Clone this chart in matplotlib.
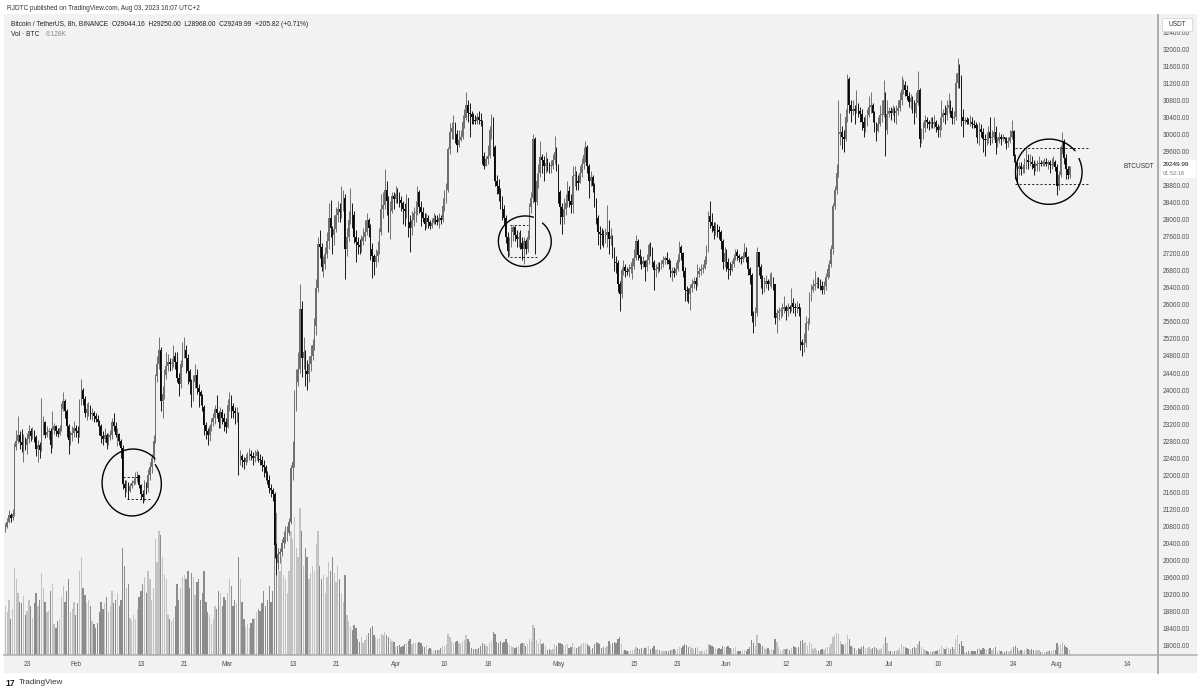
import numpy as np
import matplotlib
matplotlib.use('Agg')
import matplotlib.pyplot as plt
from matplotlib.patches import Rectangle
from matplotlib.lines import Line2D

plt.rcParams['font.family'] = ['Liberation Sans', 'DejaVu Sans']

# BTCUSDT 8h candles, Jan 19 2023 00:00 UTC -> Aug 3 2023 08:00 UTC
# every entry is (close, high, low); open = previous close
first_open = 20680

jan = [
    (20780, 20880, 20660), (20900, 20990, 20760), (21070, 21190, 20870),
    (21000, 21120, 20900), (21080, 21200, 20950), (22670, 22750, 21050),
    (22800, 23060, 22600), (22950, 23380, 22750), (22780, 23050, 22620),
    (22720, 23080, 22550), (22850, 22960, 22300), (22710, 22900, 22600),
    (22850, 23000, 22500), (23050, 23170, 22750), (22920, 23100, 22800),
    (23050, 23130, 22850), (22900, 23060, 22780), (22610, 22950, 22450),
    (22700, 22820, 22300), (22600, 22780, 22400), (23060, 23810, 22560),
    (23250, 23400, 22950), (22950, 23280, 22880), (23010, 23150, 22900),
    (23050, 23120, 22840), (22700, 23100, 22530), (23070, 23500, 22650),
    (23150, 23220, 22980), (23050, 23180, 22920), (22970, 23100, 22900),
    (23100, 23180, 22950), (23550, 23700, 23050), (23740, 23960, 23500),
    (23500, 23800, 23350), (23150, 23550, 22900), (22820, 23200, 22500),
    (22950, 23050, 22700), (23000, 23150, 22800), (23120, 23280, 22900),
]
feb = [
    (23050, 23180, 22900), (23000, 23150, 22760), (23720, 23800, 22900),
    (24000, 24250, 23650), (23800, 24050, 23650), (23470, 23850, 23360),
    (23550, 23700, 23300), (23600, 23720, 23400), (23430, 23650, 23330),
    (23450, 23580, 23300), (23380, 23500, 23250), (23330, 23460, 23250),
    (23250, 23420, 23150), (23150, 23300, 22950), (22930, 23200, 22750),
    (22850, 23050, 22720), (22950, 23100, 22780), (22760, 23000, 22620),
    (22900, 23000, 22700), (22950, 23060, 22820), (23240, 23350, 22850),
    (23150, 23450, 23050), (22950, 23250, 22900), (22960, 23100, 22680),
    (22800, 23000, 22700), (22650, 22850, 22400), (21800, 22700, 21680),
    (21700, 21900, 21480), (21820, 21900, 21600), (21630, 21850, 21450),
    (21750, 21820, 21600), (21820, 21900, 21700), (21860, 21950, 21780),
    (21950, 22080, 21800), (22000, 22090, 21850), (21780, 22000, 21700),
    (21550, 21800, 21450), (21500, 21650, 21350), (21780, 21880, 21400),
    (21700, 21850, 21550), (22000, 22150, 21600), (22200, 22320, 21900),
    (22400, 22500, 22050), (22800, 22950, 22300), (24320, 24380, 22750),
    (24600, 24800, 24200), (24950, 25250, 24500), (23740, 25000, 23500),
    (23900, 24100, 23350), (24350, 24500, 23800), (24570, 24900, 24250),
    (24650, 24850, 24450), (24600, 24750, 24450), (24630, 24750, 24480),
    (24800, 25050, 24550), (24650, 24900, 24500), (24280, 24900, 24200),
    (24150, 24400, 23850), (24600, 24700, 24050), (24840, 25120, 24550),
    (24950, 25250, 24750), (24750, 25050, 24400), (24440, 24850, 24150),
    (24200, 24500, 23900), (23850, 24250, 23600), (24190, 24350, 23750),
    (24350, 24600, 24050), (24050, 24500, 23900), (23950, 24150, 23600),
    (23850, 24000, 23650), (23600, 23900, 23500), (23190, 23650, 22950),
    (23050, 23250, 22850), (22950, 23100, 22720), (23150, 23200, 22800),
    (23250, 23350, 23050), (23350, 23450, 23150), (23550, 23650, 23200),
    (23450, 23890, 23350), (23250, 23500, 23100), (23490, 23600, 23100),
    (23350, 23550, 23200), (23250, 23450, 23050), (23140, 23350, 23000),
]
mar = [
    (23650, 23800, 23100), (23750, 23950, 23500), (23630, 23880, 23350),
    (23500, 23700, 23350), (23450, 23600, 23200), (23470, 23600, 23250),
    (22400, 23480, 22000), (22450, 22600, 22250), (22350, 22500, 22200),
    (22300, 22420, 22150), (22400, 22500, 22250), (22430, 22550, 22300),
    (22500, 22650, 22350), (22450, 22600, 22350), (22410, 22550, 22250),
    (22450, 22600, 22300), (22550, 22620, 22350), (22390, 22570, 22320),
    (22350, 22500, 22250), (22250, 22450, 22100), (22200, 22350, 21950),
    (22050, 22250, 21900), (21900, 22100, 21800), (21700, 22000, 21580),
    (21650, 21800, 21500), (21550, 21700, 21400), (20360, 21600, 20050),
    (19950, 20400, 19650), (20150, 20300, 19800), (20190, 20300, 19950),
    (20400, 20500, 20100), (20550, 20700, 20300), (20630, 20800, 20400),
    (20650, 20800, 20450), (20900, 21000, 20600), (22160, 22250, 20850),
    (22300, 22800, 21900), (23600, 24000, 22200), (24200, 24500, 23500),
    (24500, 24900, 24100), (25900, 26500, 24400), (24750, 26100, 24300),
    (24900, 25250, 24500), (24450, 24950, 24100), (24380, 24700, 24000),
    (24600, 24800, 24200), (24800, 25050, 24450), (25060, 25200, 24700),
    (25500, 25700, 24950), (26400, 26600, 25300), (27420, 27600, 26300),
    (27350, 27750, 27100), (26900, 27450, 26800), (26960, 27150, 26650),
    (27200, 27350, 26850), (27500, 27700, 27100), (28040, 28400, 27300),
    (27800, 28470, 27600), (27650, 27850, 27200), (27770, 28100, 27400),
    (28100, 28300, 27700), (28250, 28450, 27950), (28170, 28400, 27950),
    (28400, 28800, 28050), (28500, 28700, 28200), (27300, 28600, 26600),
    (27600, 27800, 27150), (28000, 28200, 27500), (28330, 28750, 27900),
    (28100, 28400, 27800), (27600, 28200, 27450), (27480, 27750, 27000),
    (27400, 27600, 27200), (27350, 27550, 27200), (27490, 27650, 27250),
    (27600, 27800, 27400), (27700, 28000, 27500), (27990, 28150, 27650),
    (27800, 28050, 27600), (27300, 27900, 27050), (27140, 27450, 26630),
    (27000, 27200, 26700), (27150, 27300, 26900), (27270, 27500, 27000),
    (27700, 27800, 27200), (28250, 28600, 27650), (28350, 28650, 28050),
    (28700, 29180, 28250), (28450, 28900, 28100), (28030, 28550, 27700),
    (28200, 28450, 27550), (28550, 28650, 28150), (28480, 28650, 28250),
]
apr = [
    (28600, 28800, 28400), (28550, 28750, 28400), (28470, 28650, 28300),
    (28400, 28550, 28200), (28250, 28450, 27900), (28200, 28400, 27850),
    (28500, 28600, 28050), (27950, 28500, 27600), (27800, 28100, 27250),
    (28000, 28200, 27650), (28150, 28300, 27850), (28170, 28450, 27950),
    (28650, 28780, 28100), (28300, 28700, 28150), (28170, 28450, 27850),
    (28050, 28300, 27950), (27900, 28150, 27750), (28040, 28150, 27800),
    (27950, 28100, 27800), (27850, 28000, 27780), (27930, 28050, 27800),
    (28050, 28150, 27900), (28000, 28100, 27900), (27950, 28100, 27880),
    (28050, 28150, 27800), (28000, 28100, 27900), (28330, 28500, 27950),
    (28600, 28700, 28200), (28700, 28850, 28400), (29650, 29700, 28650),
    (30050, 30280, 29550), (30150, 30300, 29900), (30230, 30450, 29900),
    (30000, 30300, 29800), (29750, 30100, 29600), (29880, 30100, 29700),
    (29950, 30100, 29850), (30300, 30450, 29900), (30390, 30600, 30150),
    (30700, 31000, 30350), (30500, 30800, 30300), (30490, 30750, 29950),
    (30400, 30550, 30250), (30350, 30500, 30250), (30320, 30450, 30250),
    (30400, 30500, 30250), (30350, 30550, 30250), (30320, 30500, 30200),
    (29500, 30350, 29300), (29250, 29600, 29200), (29430, 29500, 29250),
    (29500, 29750, 29300), (30100, 30200, 29450), (30380, 30480, 29900),
    (29700, 30400, 29500), (28900, 29750, 28800), (28800, 29050, 28600),
    (28600, 28950, 28450), (28400, 28750, 28250), (28240, 28550, 28000),
    (28050, 28350, 27900), (27600, 28100, 27450), (27260, 27700, 27120),
    (27450, 27600, 27150), (27700, 27850, 27350), (27820, 27880, 27500),
    (27650, 27850, 27500), (27550, 27750, 27350), (27590, 27700, 27350),
    (27450, 27750, 27300), (27300, 27600, 27050), (27510, 27600, 26970),
    (27300, 27550, 27200), (27600, 27750, 27250), (28300, 28400, 27550),
    (28500, 28650, 28150), (29900, 30000, 28400), (28420, 29950, 27200),
    (28900, 29100, 28350), (29100, 29300, 28750), (29470, 29850, 29000),
    (29400, 29550, 29100), (29250, 29500, 28900), (29340, 29600, 29100),
    (29300, 29450, 29150), (29250, 29350, 29100), (29250, 29400, 29100),
    (29400, 29550, 29200), (29600, 29960, 29300), (29230, 29700, 29150),
]
may = [
    (28650, 29300, 28400), (28300, 28700, 27900), (28070, 28400, 27660),
    (28250, 28500, 27900), (28400, 28600, 28100), (28680, 28900, 28300),
    (28450, 28800, 28300), (28350, 28600, 28150), (29030, 29250, 28150),
    (29050, 29250, 28800), (28900, 29150, 28700), (28850, 29050, 28700),
    (29100, 29250, 28850), (29300, 29450, 29000), (29530, 29700, 29200),
    (29700, 29850, 29350), (29250, 29750, 29100), (28900, 29300, 28500),
    (29000, 29150, 28800), (28800, 29050, 28650), (28430, 28850, 28300),
    (28050, 28500, 27900), (27700, 28100, 27400), (27660, 27850, 27300),
    (27650, 27800, 27400), (27550, 27750, 27350), (27630, 27800, 27450),
    (27700, 28350, 27350), (27550, 28000, 27200), (27620, 27800, 27400),
    (27300, 27650, 27100), (27000, 27350, 26800), (26990, 27150, 26750),
    (26500, 27050, 26300), (26250, 26550, 25850), (26810, 26900, 26150),
    (26900, 27050, 26700), (26800, 26950, 26650), (26780, 26900, 26700),
    (26850, 26950, 26650), (26900, 27000, 26750), (26920, 27100, 26600),
    (27100, 27300, 26850), (27500, 27650, 27050), (27170, 27550, 27050),
    (27100, 27300, 26950), (26950, 27150, 26850), (27030, 27150, 26900),
    (26900, 27050, 26550), (27050, 27200, 26800), (27400, 27450, 26950),
    (27300, 27480, 27150), (27000, 27350, 26900), (26830, 27050, 26350),
    (26850, 26950, 26650), (26900, 27000, 26750), (26890, 27000, 26800),
    (26950, 27050, 26850), (27050, 27150, 26900), (27100, 27150, 26950),
    (27050, 27250, 26950), (26950, 27100, 26850), (26750, 27050, 26650),
    (26800, 26900, 26550), (26750, 26900, 26650), (26850, 27000, 26700),
    (27050, 27200, 26800), (27350, 27500, 27000), (27220, 27400, 27050),
    (26800, 27250, 26650), (26350, 26900, 26100), (26330, 26450, 26080),
    (26250, 26400, 26050), (26400, 26500, 25870), (26480, 26600, 26300),
    (26550, 26650, 26400), (26500, 26650, 26350), (26720, 26950, 26450),
    (26800, 26900, 26650), (26850, 26950, 26700), (26870, 26950, 26750),
    (27050, 27150, 26850), (27300, 27400, 26950), (28080, 28200, 27250),
    (27950, 28450, 27800), (27850, 28150, 27700), (27740, 27950, 27550),
    (27850, 27950, 27650), (27750, 27900, 27600), (27700, 27850, 27550),
    (27500, 27750, 27300), (27000, 27550, 26850), (27210, 27350, 26900),
]
jun = [
    (27000, 27300, 26800), (26850, 27100, 26600), (26820, 27000, 26700),
    (26950, 27050, 26800), (27100, 27200, 26900), (27250, 27300, 27050),
    (27150, 27300, 27050), (27100, 27200, 27000), (27070, 27150, 26950),
    (27150, 27250, 27000), (27250, 27450, 27100), (27120, 27350, 27000),
    (26850, 27150, 26700), (26700, 26900, 26500), (25730, 26750, 25600),
    (25700, 25850, 25350), (25800, 25950, 25500), (27230, 27350, 25750),
    (26900, 27250, 26700), (26600, 26950, 26400), (26340, 26700, 26250),
    (26500, 26650, 26300), (26550, 26700, 26400), (26500, 26600, 26350),
    (26550, 26750, 26450), (26600, 26780, 26400), (26480, 26650, 26350),
    (25700, 26500, 25550), (25800, 25900, 25350), (25850, 25950, 25650),
    (25850, 25950, 25700), (25900, 26050, 25750), (25940, 26200, 25800),
    (25850, 26000, 25650), (25950, 26050, 25750), (25900, 26000, 25800),
    (26050, 26400, 25850), (25950, 26150, 25800), (25920, 26050, 25750),
    (25950, 26100, 25800), (25900, 26050, 25750), (25120, 25950, 24950),
    (25050, 25200, 24800), (25100, 25350, 24900), (25580, 25750, 25000),
    (25600, 25700, 25400), (26200, 26300, 25550), (26340, 26500, 26100),
    (26450, 26600, 26300), (26500, 26800, 26350), (26510, 26650, 26400),
    (26500, 26650, 26400), (26450, 26600, 26350), (26340, 26550, 26250),
    (26450, 26550, 26250), (26650, 26750, 26350), (26840, 26950, 26600),
    (26950, 27050, 26650), (27300, 27400, 26900), (28310, 28400, 27200),
    (28700, 28800, 28250), (29100, 29300, 28600), (30010, 30800, 29000),
    (30050, 30500, 29750), (29950, 30200, 29650), (29890, 30100, 29600),
    (30400, 30600, 29850), (31300, 31430, 30300), (30690, 31350, 30500),
    (30550, 30800, 30300), (30600, 30800, 30450), (30550, 30700, 30250),
    (30650, 31050, 30500), (30550, 30750, 30400), (30470, 30650, 30300),
    (30300, 30600, 30100), (30150, 30400, 29950), (30270, 30450, 30050),
    (30450, 30600, 30200), (30650, 30900, 30400), (30690, 31000, 30500),
    (30500, 30750, 30300), (30200, 30550, 30050), (30080, 30300, 29850),
    (30250, 30400, 30050), (30450, 30700, 30200), (30450, 30800, 30300),
    (30800, 31280, 30400), (30100, 31000, 29500), (30470, 30800, 30000),
]
jul = [
    (30550, 30650, 30400), (30500, 30650, 30350), (30590, 30700, 30450),
    (30500, 30650, 30300), (30550, 30700, 30250), (30620, 30800, 30450),
    (30800, 31000, 30550), (31050, 31380, 30700), (31160, 31300, 30950),
    (31050, 31250, 30900), (30900, 31150, 30800), (30770, 31000, 30650),
    (30850, 30950, 30600), (30700, 30900, 30500), (30510, 30800, 30250),
    (30750, 31000, 30400), (31050, 31500, 30700), (29900, 31100, 29700),
    (30000, 30150, 29800), (30150, 30300, 29900), (30350, 30450, 30050),
    (30300, 30400, 30150), (30250, 30350, 30100), (30290, 30400, 30150),
    (30250, 30400, 30150), (30300, 30450, 30150), (30170, 30350, 30050),
    (30100, 30250, 29950), (30200, 30400, 29950), (30410, 30800, 30100),
    (30500, 30600, 30300), (30450, 30700, 30250), (30620, 30800, 30350),
    (30700, 30980, 30500), (30550, 30800, 30400), (30380, 30650, 30250),
    (30400, 30550, 30250), (31200, 31450, 30350), (31450, 31800, 31100),
    (31300, 31650, 31100), (30400, 31400, 30200), (30310, 30600, 29950),
    (30350, 30400, 30250), (30300, 30400, 30250), (30290, 30380, 30250),
    (30300, 30450, 30200), (30250, 30400, 30150), (30230, 30350, 30150),
    (30150, 30300, 29950), (30050, 30250, 29800), (30140, 30300, 29750),
    (30050, 30240, 29950), (29900, 30150, 29600), (29860, 30000, 29500),
    (29900, 30050, 29750), (30050, 30200, 29800), (29910, 30400, 29750),
    (29950, 30100, 29800), (30050, 30400, 29900), (29800, 30200, 29550),
    (29850, 29950, 29700), (29950, 30050, 29800), (29900, 30000, 29750),
    (29950, 30000, 29850), (29900, 29950, 29800), (29790, 29950, 29650),
    (29850, 29950, 29700), (29950, 30100, 29800), (30080, 30350, 29900),
    (29500, 30100, 29350), (29200, 29550, 28950), (29180, 29350, 28860),
    (29250, 29350, 29050), (29200, 29350, 29050), (29230, 29300, 29100),
    (29300, 29450, 29100), (29400, 29690, 29200), (29350, 29550, 29200),
    (29350, 29550, 29250), (29300, 29500, 29200), (29210, 29400, 29050),
    (29250, 29350, 29150), (29300, 29400, 29150), (29310, 29500, 29150),
    (29300, 29400, 29250), (29350, 29400, 29250), (29350, 29450, 29250),
    (29300, 29450, 29250), (29350, 29400, 29200), (29280, 29400, 29100),
    (29300, 29450, 29200), (29350, 29500, 29250), (29230, 29400, 29150),
]
aug = [
    (28800, 29300, 28585), (29050, 29150, 28700), (29700, 29750, 29000),
    (29850, 30047, 29550), (29450, 29900, 29300), (29180, 29550, 28950),
    (29044.16, 29250, 28950), (29249.99, 29250, 28968),
]

# volume, thousands of BTC per 8h candle
vol_jan = [55, 48, 62, 40, 52, 98, 85, 70, 60, 58, 66, 45, 50, 62, 55, 42, 58, 70,
           55, 62, 92, 75, 60, 48, 50, 72, 80, 35, 30, 38, 40, 65, 78, 60, 72, 85,
           48, 52, 60]
vol_feb = [45, 58, 95, 110, 75, 68, 58, 62, 55, 38, 35, 30, 36, 48, 60, 52, 58, 65,
           48, 55, 72, 58, 62, 70, 55, 62, 120, 100, 75, 80, 42, 38, 45, 40, 52, 65,
           72, 80, 88, 70, 95, 85, 62, 75, 130, 105, 140, 135, 110, 90, 85, 45, 40, 38,
           42, 55, 80, 62, 75, 88, 90, 85, 95, 75, 92, 88, 68, 82, 85, 62, 70, 95,
           60, 48, 45, 35, 40, 55, 52, 72, 70, 55, 65, 62]
vol_mar = [70, 85, 78, 55, 62, 58, 110, 85, 60, 40, 32, 35, 30, 36, 40, 42, 48, 52,
           50, 58, 72, 55, 62, 78, 60, 72, 150, 160, 120, 95, 110, 90, 85, 70, 95, 140,
           130, 155, 120, 110, 165, 140, 100, 120, 110, 85, 92, 100, 95, 125, 140, 100, 85, 90,
           70, 88, 105, 95, 110, 92, 82, 100, 85, 70, 60, 90, 45, 38, 32, 28, 34, 30,
           18, 15, 20, 14, 17, 22, 25, 30, 33, 22, 20, 18, 19, 24, 22, 26, 22, 20,
           18, 16, 15]
vol_apr = [9, 10, 11, 9, 10, 12, 14, 16, 18, 12, 13, 14, 13, 15, 14, 10, 9, 11,
           7, 8, 7, 5, 6, 6, 6, 8, 10, 10, 12, 24, 20, 16, 14, 15, 16, 14,
           12, 15, 17, 22, 18, 15, 8, 7, 7, 7, 8, 10, 14, 12, 10, 10, 14, 16,
           26, 24, 15, 14, 16, 13, 15, 18, 14, 11, 10, 9, 8, 9, 10, 12, 14, 13,
           10, 12, 18, 16, 34, 30, 17, 14, 18, 12, 14, 10, 6, 7, 6, 7, 12, 10]
vol_may = [13, 14, 12, 10, 11, 12, 8, 9, 13, 9, 8, 9, 10, 12, 13, 14, 12, 10,
           7, 8, 12, 15, 14, 12, 8, 9, 8, 10, 16, 12, 14, 15, 13, 18, 20, 12,
           5, 6, 5, 4, 5, 6, 7, 9, 8, 7, 8, 7, 8, 9, 10, 7, 8, 10,
           6, 7, 6, 4, 5, 4, 4, 5, 6, 6, 7, 6, 7, 9, 8, 10, 12, 11,
           9, 10, 8, 7, 8, 9, 4, 5, 4, 5, 7, 12, 11, 10, 9, 8, 7, 8,
           7, 10, 9]
vol_jun = [9, 10, 8, 7, 8, 9, 5, 4, 5, 4, 6, 5, 7, 9, 17, 14, 10, 22,
           13, 12, 10, 8, 7, 8, 6, 7, 6, 18, 15, 9, 6, 5, 7, 7, 8, 6,
           8, 10, 9, 8, 9, 16, 17, 14, 15, 10, 15, 12, 7, 8, 6, 5, 6, 7,
           6, 8, 9, 9, 12, 20, 22, 25, 24, 16, 12, 11, 13, 22, 18, 10, 9, 8,
           6, 8, 7, 9, 10, 8, 8, 9, 7, 8, 9, 8, 6, 7, 8, 12, 20, 14]
vol_jul = [5, 4, 5, 4, 5, 6, 8, 12, 10, 9, 8, 7, 7, 8, 9, 8, 12, 16,
           9, 7, 6, 4, 3, 4, 3, 4, 5, 6, 7, 10, 8, 7, 9, 8, 7, 9,
           7, 18, 22, 12, 16, 10, 3, 3, 4, 3, 4, 5, 5, 7, 8, 6, 8, 7,
           6, 7, 8, 6, 8, 9, 5, 6, 5, 3, 3, 4, 3, 4, 7, 9, 10, 8,
           5, 6, 5, 6, 8, 7, 6, 7, 6, 5, 6, 6, 3, 3, 3, 3, 4, 5,
           5, 6, 6]
vol_aug = [13, 10, 12, 15, 11, 9, 8, 6.128]

tick_dates = ['2023-01-23', '2023-02-01', '2023-02-13', '2023-02-21', '2023-03-01',
              '2023-03-13', '2023-03-21', '2023-04-01', '2023-04-10', '2023-04-18',
              '2023-05-01', '2023-05-15', '2023-05-23', '2023-06-01', '2023-06-12',
              '2023-06-20', '2023-07-01', '2023-07-10', '2023-07-24', '2023-08-01',
              '2023-08-14']
tick_labels = ['23', 'Feb', '13', '21', 'Mar', '13', '21', 'Apr', '10', '18', 'May',
               '15', '23', 'Jun', '12', '20', 'Jul', '10', '24', 'Aug', '14']
price_ticks = list(range(18000, 32401, 400))
last_price = 29249.99

# ---------------------------------------------------------------------------
candles = np.array(jan + feb + mar + apr + may + jun + jul + aug, dtype=float)
close = candles[:, 0]
open_ = np.concatenate([[first_open], close[:-1]])
high = np.maximum(candles[:, 1], np.maximum(open_, close))
low = np.minimum(candles[:, 2], np.minimum(open_, close))
volume = np.array(vol_jan + vol_feb + vol_mar + vol_apr + vol_may + vol_jun + vol_jul + vol_aug)
idx = np.arange(len(close))
up = close >= open_

start = np.datetime64('2023-01-19T00:00')
tick_pos = [(np.datetime64(d + 'T00:00') - start) / np.timedelta64(8, 'h') for d in tick_dates]

W, H = 1200, 691
fig = plt.figure(figsize=(W / 100, H / 100), dpi=100)
fig.patch.set_facecolor('white')


def fx(px):
    return px / W


def fy(py):
    return 1 - py / H


fig.add_artist(Rectangle((fx(4), fy(673)), fx(1197) - fx(4), fy(14) - fy(673),
                         transform=fig.transFigure, facecolor='#f2f2f2',
                         edgecolor='none', zorder=-5))

rect = [fx(5), fy(655), fx(1158) - fx(5), fy(15) - fy(655)]
xlim = (-0.2, 637.9)
ylim = (17780, 32805)

ax_vol = fig.add_axes(rect, zorder=1)
ax_vol.patch.set_visible(False)
ax_vol.set_axis_off()
ax_vol.bar(idx, volume, width=0.72, color=np.where(up, '#c2c2c2', '#8c8c8c'), linewidth=0)
ax_vol.set_xlim(*xlim)
ax_vol.set_ylim(0, 720)

ax = fig.add_axes(rect, zorder=2)
ax.patch.set_visible(False)
for s in ax.spines.values():
    s.set_visible(False)

wick_col = np.where(up, '#707070', '#1a1a1a')
body_col = np.where(up, '#6e6e6e', '#050505')
ax.vlines(idx, low, high, colors=wick_col, linewidth=0.7)
body_lo = np.minimum(open_, close)
body_h = np.maximum(np.abs(close - open_), 22)
ax.bar(idx, body_h, bottom=body_lo, width=0.8, color=body_col, linewidth=0)

ax.set_xlim(*xlim)
ax.set_ylim(*ylim)
ax.yaxis.tick_right()
# the tick under the last-price tag is covered in the reference
shown_ticks = [v for v in price_ticks if abs(v - last_price) > 200]
ax.set_yticks(shown_ticks)
ax.set_yticklabels([f'{v:.2f}' for v in shown_ticks])
ax.set_xticks(tick_pos)
ax.set_xticklabels(tick_labels)
ax.tick_params(axis='y', length=0, pad=3.6, labelsize=4.7, labelcolor='#4d4d4d')
ax.tick_params(axis='x', length=0, pad=4.6, labelsize=4.7, labelcolor='#4d4d4d')


# hand drawn loops around the ranges
def loop(cx, cy, rx, ry, a0, span, r0=1.0, r1=0.93):
    t = np.radians(np.linspace(a0, a0 + span, 240))
    r = np.linspace(r0, r1, 240)
    ax.plot(cx + rx * r * np.cos(t), cy + ry * r * np.sin(t), color='black',
            lw=1.0, solid_capstyle='round')


loop(70.4, 21808, 16.9, 787, 45, 352, 1.04, 0.93)
loop(287.6, 27489, 14.9, 599, 72, 336, 1.0, 0.97)
loop(577.6, 29120, 18.8, 775, 40, 345, 1.0, 0.97)

dash = dict(color='black', lw=0.6, linestyle=(0, (2.5, 2.5)))
ax.plot([65.2, 74.5], [21960, 21960], **dash)
ax.plot([67.3, 80.1], [21444, 21444], **dash)
ax.plot([279.3, 289.3], [27880, 27880], **dash)
ax.plot([279.3, 294.2], [27129, 27129], **dash)
ax.plot([558.8, 600.3], [29683, 29683], **dash)
ax.plot([558.8, 600.3], [28838, 28838], **dash)

# axis lines
fig.add_artist(Line2D([fx(1158), fx(1158)], [fy(15), fy(673)], transform=fig.transFigure,
                      color='#adadad', lw=1.4))
fig.add_artist(Line2D([fx(4), fx(1197)], [fy(655), fy(655)], transform=fig.transFigure,
                      color='#adadad', lw=1.1))

# header texts
renderer = fig.canvas.get_renderer()


def fit_text(t, width_px):
    w = t.get_window_extent(renderer).width
    t.set_fontsize(t.get_fontsize() * width_px / w)


t1 = fig.text(fx(7), fy(9), 'RJDTC published on TradingView.com, Aug 03, 2023 16:07 UTC+2',
              fontsize=5, color='#333333', va='center')
fit_text(t1, 199)
t2 = fig.text(fx(11), fy(24), 'Bitcoin / TetherUS, 8h, BINANCE  O29044.16  H29250.00  '
              'L28968.00  C29249.99  +205.82 (+0.71%)', fontsize=5, color='#222222', va='center')
fit_text(t2, 302)
fs = t2.get_fontsize()
t3 = fig.text(fx(11), fy(34.5), 'Vol · BTC', fontsize=fs, color='#222222', va='center')
fig.text(fx(11) + (t3.get_window_extent(renderer).width + 6) / W, fy(34.5), '6.128K',
         fontsize=fs, color='#8c8c8c', va='center')

# price scale badges
fig.add_artist(Rectangle((fx(1162), fy(31)), fx(1192) - fx(1162), fy(18) - fy(31),
                         transform=fig.transFigure, facecolor='white', edgecolor='#d6d6d6',
                         lw=0.6, zorder=5))
fig.text(fx(1177), fy(24.5), 'USDT', fontsize=4.7, color='#333333', ha='center',
         va='center', zorder=6)
fig.add_artist(Rectangle((fx(1161), fy(178)), fx(1196) - fx(1161), fy(160) - fy(178),
                         transform=fig.transFigure, facecolor='white', edgecolor='none',
                         zorder=5))
fig.text(fx(1163), fy(164.5), f'{last_price:.2f}', fontsize=4.6, color='#111111',
         va='center', zorder=6)
fig.text(fx(1163), fy(173.5), '01:52:18', fontsize=4.1, color='#777777', va='center', zorder=6)
fig.text(fx(1154), fy(166), 'BTCUSDT', fontsize=4.7, color='#333333', ha='right',
         va='center', zorder=6)

# footer
fig.text(fx(5), fy(683), '17', fontsize=6.2, color='#131722', fontweight='bold', va='center')
fig.text(fx(19), fy(683), 'TradingView', fontsize=5.8, color='#333333', va='center')

fig.savefig('out.png', dpi=100)
